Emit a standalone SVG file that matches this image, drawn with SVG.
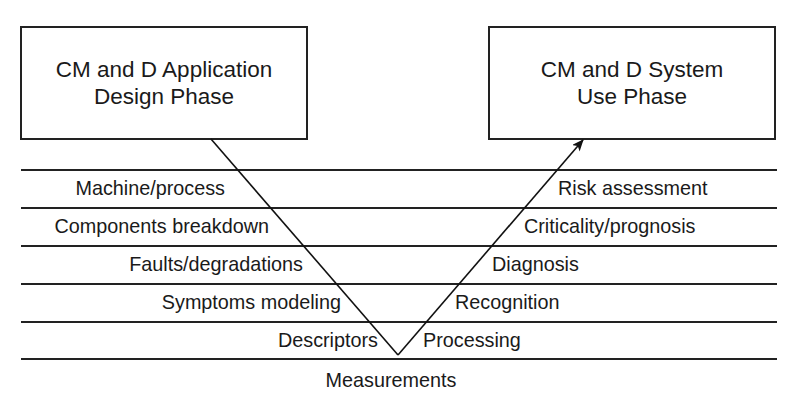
<svg xmlns="http://www.w3.org/2000/svg" width="800" height="400" viewBox="0 0 800 400">
<style>
.box{fill:#fff;stroke:#222;stroke-width:2}
.bt{font-family:"Liberation Sans",Arial,sans-serif;font-size:22.5px;fill:#1a1a1a;text-anchor:middle}
.lbl{font-family:"Liberation Sans",Arial,sans-serif;font-size:19.8px;fill:#1a1a1a}
.l{text-anchor:end}
.r{text-anchor:start}
.hl{stroke:#222;stroke-width:1.8}
.v{stroke:#111;stroke-width:1.6;fill:none}
</style>
<defs>
<marker id="ah" viewBox="0 0 12 10" refX="11" refY="5" markerWidth="12" markerHeight="10" markerUnits="userSpaceOnUse" orient="auto">
<path d="M0,0 L12,5 L0,10 L3,5 z" fill="#111"/>
</marker>
</defs>
<rect width="800" height="400" fill="#fff"/>
<g id="design-phase">
<rect class="box" x="21" y="27" width="286" height="112"/>
<text class="bt" x="164" y="77">CM and D Application</text>
<text class="bt" x="164" y="104">Design Phase</text>
</g>
<g id="use-phase">
<rect class="box" x="489" y="27" width="286" height="112"/>
<text class="bt" x="632" y="77">CM and D System</text>
<text class="bt" x="632" y="104">Use Phase</text>
</g>
<g id="levels">
<line class="hl" x1="21" y1="170" x2="777" y2="170"/>
<line class="hl" x1="21" y1="208" x2="777" y2="208"/>
<line class="hl" x1="21" y1="246" x2="777" y2="246"/>
<line class="hl" x1="21" y1="284" x2="777" y2="284"/>
<line class="hl" x1="21" y1="322" x2="777" y2="322"/>
<line class="hl" x1="21" y1="359" x2="777" y2="359"/>
</g>
<g id="connectors">
<path class="v" d="M211,139 L398,355"/>
<path class="v" d="M398,355 L583,140" marker-end="url(#ah)"/>
</g>
<g id="left-labels">
<text class="lbl l" x="225" y="195">Machine/process</text>
<text class="lbl l" x="269" y="233">Components breakdown</text>
<text class="lbl l" x="303" y="271">Faults/degradations</text>
<text class="lbl l" x="341" y="309">Symptoms modeling</text>
<text class="lbl l" x="378" y="347">Descriptors</text>
</g>
<g id="right-labels">
<text class="lbl r" x="558" y="195">Risk assessment</text>
<text class="lbl r" x="524" y="233">Criticality/prognosis</text>
<text class="lbl r" x="492" y="271">Diagnosis</text>
<text class="lbl r" x="455" y="309">Recognition</text>
<text class="lbl r" x="423" y="347">Processing</text>
</g>
<g id="measurements">
<text class="lbl" x="391" y="387" text-anchor="middle">Measurements</text>
</g>
</svg>
